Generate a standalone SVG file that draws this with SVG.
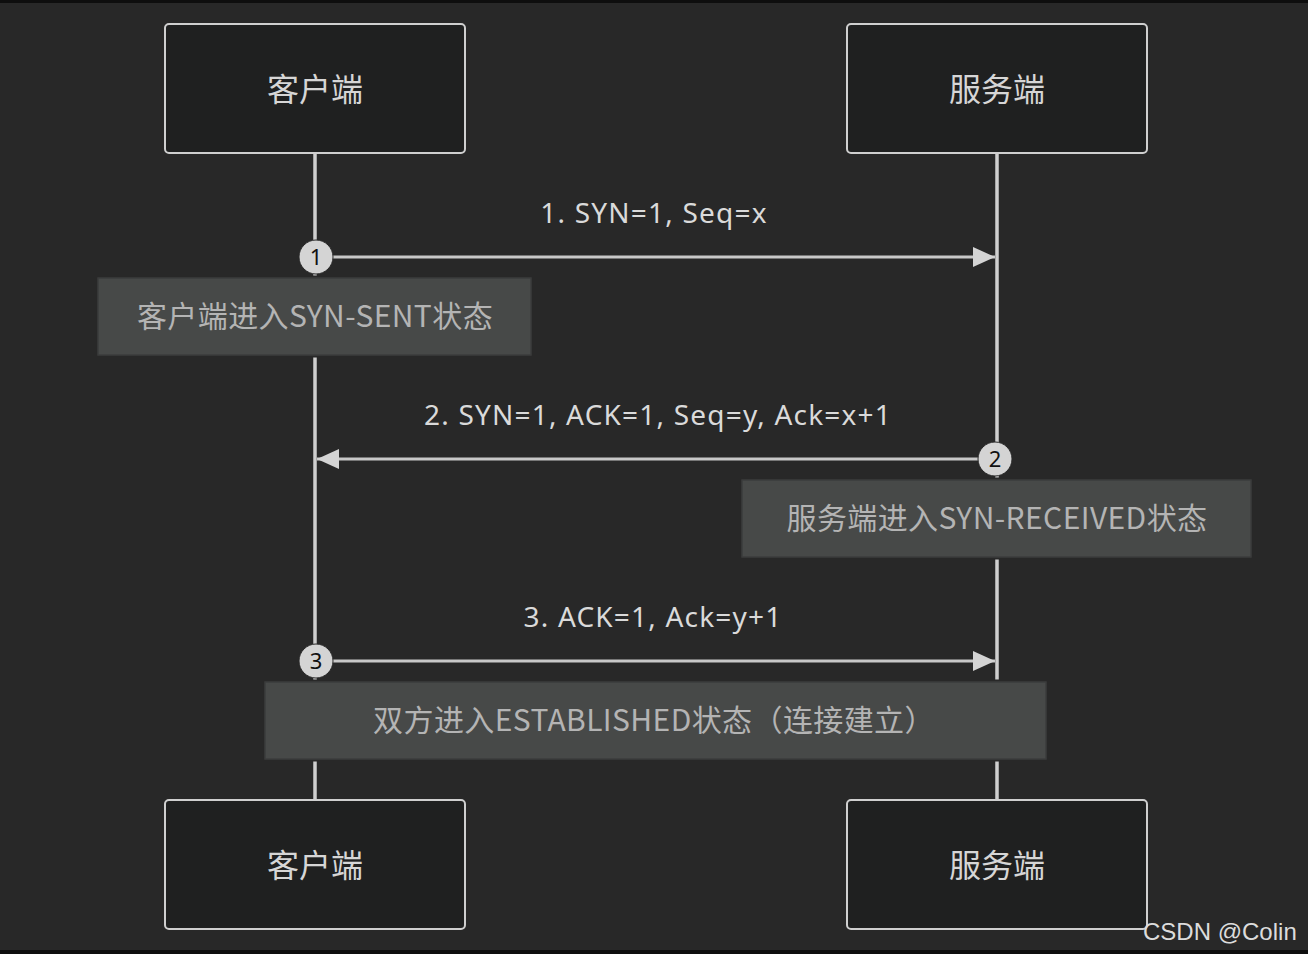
<svg xmlns="http://www.w3.org/2000/svg" width="1308" height="954" viewBox="0 0 1308 954">
  <defs>
    <style>
      .actor rect { fill: #1f2020; stroke: #cfcfcf; stroke-width: 2; }
      .actor text { font-family: "Noto Sans CJK SC", "Noto Sans", sans-serif; font-size: 32px; fill: #d6d6d6; text-anchor: middle; }
      .life { stroke: #cfcfcf; stroke-width: 3.5; }
      .msg { stroke: #c8c8c8; stroke-width: 3; fill: none; }
      .msgtxt { font-family: "Noto Sans", "Noto Sans CJK SC", sans-serif; font-size: 28px; letter-spacing: 1.2px; fill: #dadada; text-anchor: middle; }
      .note .gap { fill: none; stroke: #282828; stroke-width: 5; }
      .note .box { fill: #474948; stroke: #3b3c3c; stroke-width: 1.5; }
      .note text { font-family: "Noto Sans CJK SC", "Noto Sans", sans-serif; font-size: 30px; letter-spacing: 0.4px; fill: #b4b4b4; text-anchor: middle; }
      .seq circle { fill: #d4d4d4; stroke: #2a2a2a; stroke-width: 1; }
      .seq text { font-family: "Noto Sans", sans-serif; font-size: 22px; fill: #111; text-anchor: middle; }
    </style>
    <marker id="head" viewBox="0 0 22 20" refX="22" refY="10" markerWidth="22" markerHeight="20" markerUnits="userSpaceOnUse" orient="auto">
      <path d="M0,0 L22,10 L0,20 Z" fill="#d4d4d4"/>
    </marker>
  </defs>

  <rect width="1308" height="954" fill="#282828"/>
  <rect x="0" y="0" width="1308" height="3" fill="#0e0e0e"/>
  <rect x="0" y="950" width="1308" height="4" fill="#0e0e0e"/>

  <!-- lifelines -->
  <g id="lifelines">
    <line class="life" x1="315" y1="153" x2="315" y2="800"/>
    <line class="life" x1="997" y1="153" x2="997" y2="800"/>
  </g>

  <!-- participants -->
  <g id="client-top" class="actor">
    <rect x="165" y="24" width="300" height="129" rx="4"/>
    <text x="315" y="101">客户端</text>
  </g>
  <g id="server-top" class="actor">
    <rect x="847" y="24" width="300" height="129" rx="4"/>
    <text x="997" y="101">服务端</text>
  </g>
  <g id="client-bottom" class="actor">
    <rect x="165" y="800" width="300" height="129" rx="4"/>
    <text x="315" y="877">客户端</text>
  </g>
  <g id="server-bottom" class="actor">
    <rect x="847" y="800" width="300" height="129" rx="4"/>
    <text x="997" y="877">服务端</text>
  </g>

  <!-- messages -->
  <g id="connectors">
    <line class="msg" x1="316" y1="257" x2="995" y2="257" marker-end="url(#head)"/>
    <line class="msg" x1="995" y1="459" x2="317" y2="459" marker-end="url(#head)"/>
    <line class="msg" x1="316" y1="661" x2="995" y2="661" marker-end="url(#head)"/>
    <text class="msgtxt" x="654" y="223">1. SYN=1, Seq=x</text>
    <text class="msgtxt" x="658" y="425">2. SYN=1, ACK=1, Seq=y, Ack=x+1</text>
    <text class="msgtxt" x="653" y="627">3. ACK=1, Ack=y+1</text>
  </g>

  <!-- notes -->
  <g id="note-syn-sent" class="note">
    <rect class="gap" x="98" y="278" width="433" height="77"/>
    <rect class="box" x="98" y="278" width="433" height="77"/>
    <text x="315" y="327">客户端进入SYN-SENT状态</text>
  </g>
  <g id="note-syn-received" class="note">
    <rect class="gap" x="742" y="480" width="509" height="77"/>
    <rect class="box" x="742" y="480" width="509" height="77"/>
    <text x="997" y="529">服务端进入SYN-RECEIVED状态</text>
  </g>
  <g id="note-established" class="note">
    <rect class="gap" x="265" y="682" width="781" height="77"/>
    <rect class="box" x="265" y="682" width="781" height="77"/>
    <text x="654" y="731">双方进入ESTABLISHED状态（连接建立）</text>
  </g>

  <!-- sequence numbers -->
  <g id="seq-1" class="seq">
    <circle cx="316" cy="257" r="17"/>
    <text x="316" y="265">1</text>
  </g>
  <g id="seq-2" class="seq">
    <circle cx="995" cy="459" r="17"/>
    <text x="995" y="467">2</text>
  </g>
  <g id="seq-3" class="seq">
    <circle cx="316" cy="661" r="17"/>
    <text x="316" y="669">3</text>
  </g>

  <text x="1143" y="940" font-family="Liberation Sans, Arial, sans-serif" font-size="24" fill="#dcdcdc">CSDN @Colin</text>
</svg>
